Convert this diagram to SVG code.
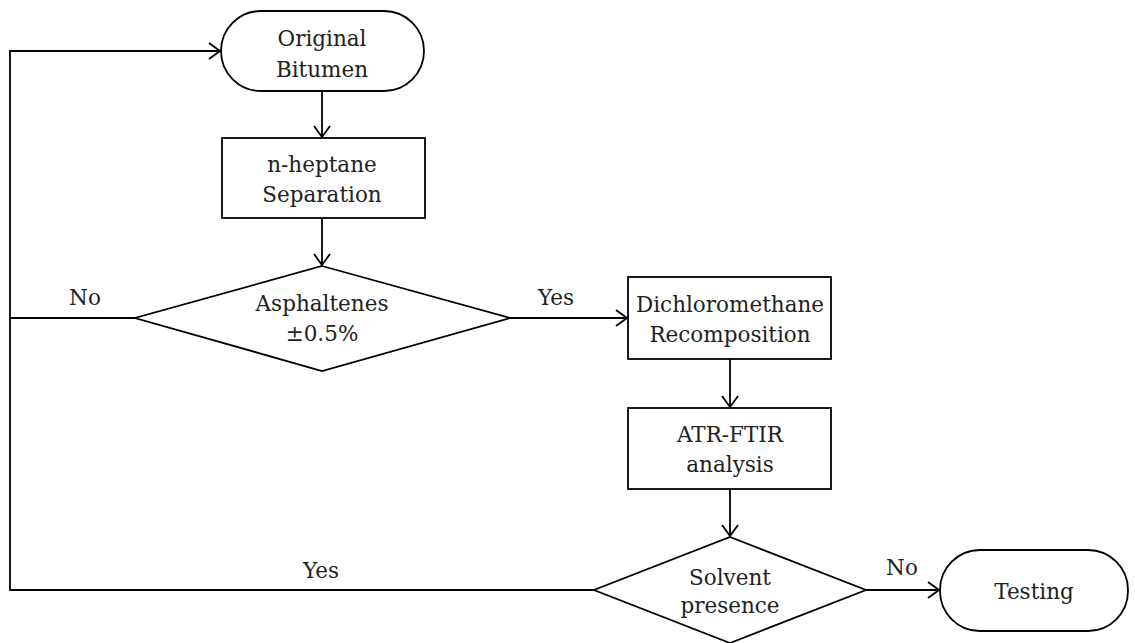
<svg xmlns="http://www.w3.org/2000/svg" width="1135" height="643" viewBox="0 0 1135 643">
<style>
.s{fill:#fff;stroke:#000;stroke-width:1.8}
.c{fill:none;stroke:#000;stroke-width:1.8}
.t{font-family:"DejaVu Serif","Liberation Serif",serif;font-size:21.5px;fill:#222;text-anchor:middle}
</style>
<defs>
<marker id="ar" markerWidth="14" markerHeight="18" refX="12" refY="9" orient="auto" markerUnits="userSpaceOnUse">
<path d="M1,1 L12,9 L1,17" fill="none" stroke="#000" stroke-width="1.8"/>
</marker>
</defs>
<rect width="1135" height="643" fill="#fff"/>
<g id="connectors">
<path class="c" d="M322,91 V137" marker-end="url(#ar)"/>
<path class="c" d="M322,218 V265" marker-end="url(#ar)"/>
<path class="c" d="M510,318 H627" marker-end="url(#ar)"/>
<path class="c" d="M730,359 V407" marker-end="url(#ar)"/>
<path class="c" d="M730,489 V536" marker-end="url(#ar)"/>
<path class="c" d="M866,590 H939" marker-end="url(#ar)"/>
<path class="c" d="M135,318 H10"/>
<path class="c" d="M594,590 H10 V51 H220" marker-end="url(#ar)"/>
<text class="t" x="85" y="305">No</text>
<text class="t" x="556" y="305">Yes</text>
<text class="t" x="321" y="578">Yes</text>
<text class="t" x="902" y="575">No</text>
</g>
<g id="original">
<rect class="s" x="221" y="11" width="203" height="80" rx="40"/>
<text class="t" x="322" y="46">Original</text>
<text class="t" x="322" y="77">Bitumen</text>
</g>
<g id="heptane">
<rect class="s" x="222" y="138" width="203" height="80"/>
<text class="t" x="322" y="172">n-heptane</text>
<text class="t" x="322" y="202">Separation</text>
</g>
<g id="asphaltenes">
<polygon class="s" points="322,266 510,318 322,371 135,318"/>
<text class="t" x="322" y="311">Asphaltenes</text>
<text class="t" x="322" y="341">±0.5%</text>
</g>
<g id="dichloromethane">
<rect class="s" x="628" y="277" width="203" height="82"/>
<text class="t" x="730" y="312">Dichloromethane</text>
<text class="t" x="730" y="342">Recomposition</text>
</g>
<g id="atr">
<rect class="s" x="628" y="408" width="203" height="81"/>
<text class="t" x="730" y="442">ATR-FTIR</text>
<text class="t" x="730" y="472">analysis</text>
</g>
<g id="solvent">
<polygon class="s" points="730,537 866,590 730,643 594,590"/>
<text class="t" x="730" y="585">Solvent</text>
<text class="t" x="730" y="613">presence</text>
</g>
<g id="testing">
<rect class="s" x="940" y="550" width="188" height="81" rx="40"/>
<text class="t" x="1034" y="599">Testing</text>
</g>
</svg>
